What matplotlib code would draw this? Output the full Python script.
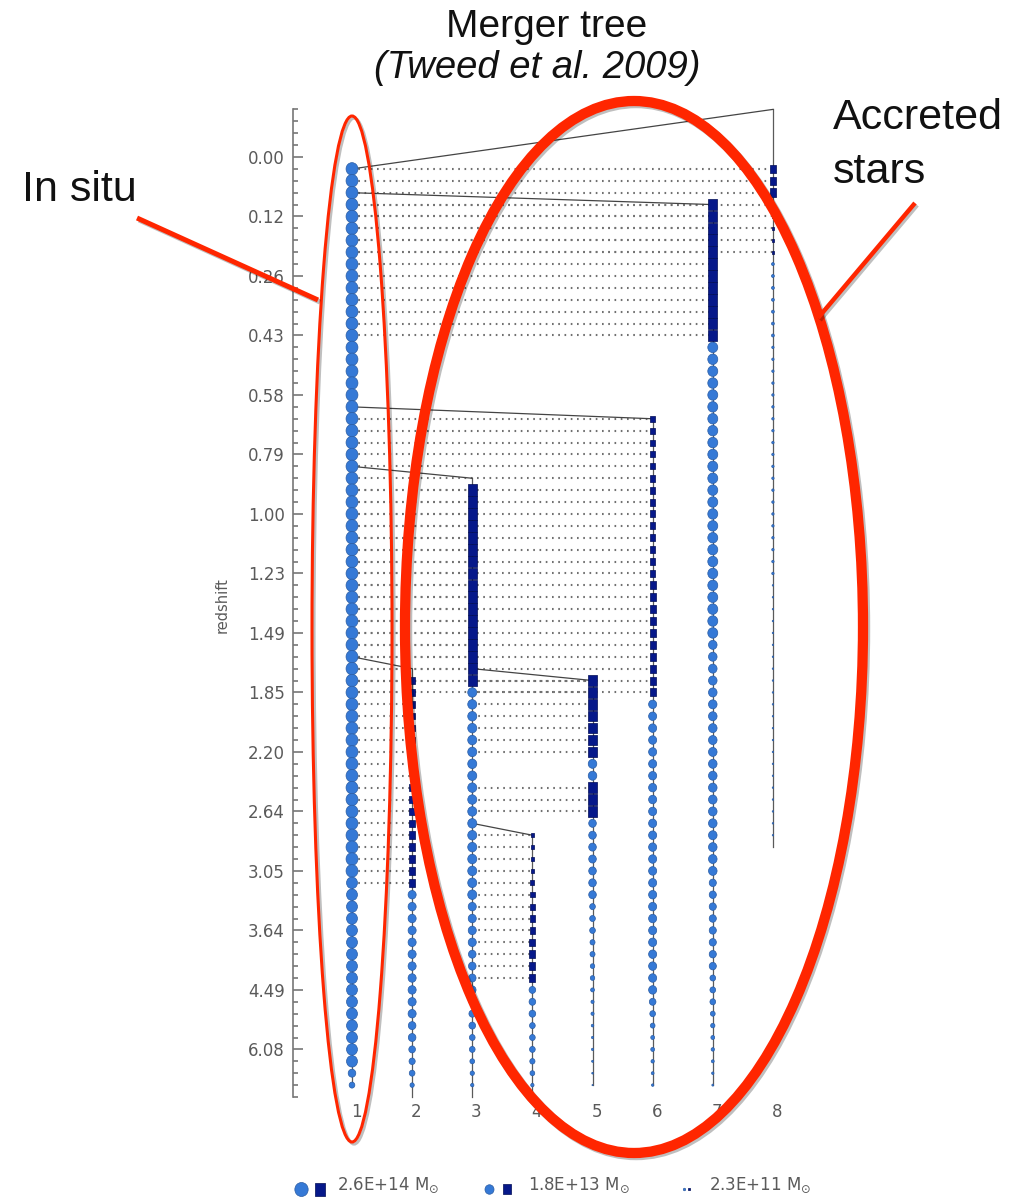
import matplotlib
matplotlib.use('Agg')
import matplotlib.pyplot as plt
import matplotlib.patheffects as pe
from matplotlib.patches import Ellipse
from matplotlib.path import Path
from matplotlib.transforms import Affine2D

# redshift printed at every fifth snapshot row (row 0 is z = 0.00)
redshift_labels = ['0.00', '0.12', '0.26', '0.43', '0.58', '0.79', '1.00', '1.23',
                   '1.49', '1.85', '2.20', '2.64', '3.05', '3.64', '4.49', '6.08']
branch_ids = [1, 2, 3, 4, 5, 6, 7, 8]

# nodes per branch as runs: (first row, last row, symbol, size in px)
# 'o' = halo mass, 's' = stars still bound in a subhalo
nodes_1 = [(1, 60, 'o', 12.5), (61, 76, 'o', 11.5), (77, 77, 'o', 8), (78, 78, 'o', 6)]
nodes_2 = [(44, 52, 's', 6.5), (53, 56, 's', 7.5), (57, 61, 's', 8.5),
           (62, 72, 'o', 8.5), (73, 74, 'o', 8), (75, 75, 'o', 7), (76, 76, 'o', 6.5),
           (77, 77, 'o', 6), (78, 78, 'o', 4.5)]
nodes_3 = [(28, 44, 's', 11.7),
           (45, 62, 'o', 9.5), (63, 66, 'o', 8.5), (67, 70, 'o', 8), (71, 73, 'o', 7),
           (74, 75, 'o', 6), (76, 76, 'o', 5), (77, 77, 'o', 4.5), (78, 78, 'o', 3.5)]
nodes_4 = [(57, 60, 's', 4.5), (61, 61, 's', 5), (62, 62, 's', 5.5), (63, 63, 's', 6),
           (64, 65, 's', 7), (66, 69, 's', 7.5),
           (70, 72, 'o', 7), (73, 75, 'o', 6), (76, 76, 'o', 5.5), (77, 77, 'o', 5),
           (78, 78, 'o', 3.5)]
nodes_5 = [(44, 50, 's', 10.5), (51, 52, 'o', 9), (53, 55, 's', 10.5),
           (56, 62, 'o', 8), (63, 65, 'o', 6), (66, 67, 'o', 5.3), (68, 69, 'o', 4.7),
           (70, 70, 'o', 4), (71, 72, 'o', 3.3), (73, 73, 'o', 2.7), (74, 75, 'o', 2.3),
           (76, 76, 'o', 2), (77, 77, 'o', 1.7), (78, 78, 'o', 1.2)]
nodes_6 = [(22, 26, 's', 6), (27, 35, 's', 7), (36, 45, 's', 8),
           (46, 70, 'o', 8.5), (71, 71, 'o', 7), (72, 72, 'o', 6), (73, 73, 'o', 5),
           (74, 75, 'o', 4), (76, 76, 'o', 3.5), (77, 77, 'o', 3), (78, 78, 'o', 2.5)]
nodes_7 = [(4, 15, 's', 11.7),
           (16, 40, 'o', 10.5), (41, 60, 'o', 9), (61, 68, 'o', 7.5), (69, 71, 'o', 6),
           (72, 72, 'o', 5), (73, 73, 'o', 4.5), (74, 74, 'o', 4), (75, 75, 'o', 3.5),
           (76, 76, 'o', 3), (77, 77, 'o', 2.5), (78, 78, 'o', 2)]
nodes_8 = [(1, 3, 's', 8.5), (4, 8, 's', 3),
           (9, 15, 'o', 3), (16, 35, 'o', 2.5), (36, 57, 'o', 1.5)]
branch_nodes = [nodes_1, nodes_2, nodes_3, nodes_4, nodes_5, nodes_6, nodes_7, nodes_8]

# mergers: (satellite, host, host row, satellite top row, satellite bottom row)
mergers = [(8, 1, 1, -4, 58),
           (7, 1, 3, 4, 78),
           (6, 1, 21, 22, 78),
           (3, 1, 26, 27, 79),
           (2, 1, 42, 43, 79),
           (5, 3, 43, 44, 78),
           (4, 3, 56, 57, 79)]

# legend masses
legend_masses = ['2.6E+14', '1.8E+13', '2.3E+11']

CIRCLE = '#3579d6'
CIRCLE_EDGE = '#2a5ca3'
SQUARE = '#06188a'
SQUARE_EDGE = '#000c55'
RED = '#ff2600'
GREY = '#5a5a5a'

# slightly tall symbols, as in the IDL output
halo_marker = Affine2D().scale(0.95, 1.0).transform_path(Path.unit_circle())
star_marker = Affine2D().translate(-0.5, -0.5).scale(0.78, 1.0).transform_path(Path.unit_rectangle())


def expand(runs):
    rows, kinds, sizes = [], [], []
    for r0, r1, kind, size in runs:
        for r in range(r0, r1 + 1):
            rows.append(r)
            kinds.append(kind)
            sizes.append(size)
    return rows, kinds, sizes


def draw_node(ax, x, rows, sizes, kind, z=4):
    if not rows:
        return
    s = [(d * 0.72) ** 2 for d in sizes]
    if kind == 'o':
        ax.scatter([x] * len(rows), rows, s=s, marker=halo_marker, c=CIRCLE,
                   edgecolors=CIRCLE_EDGE, linewidths=0.5, zorder=z, clip_on=False)
    else:
        ax.scatter([x] * len(rows), rows, s=s, marker=star_marker, c=SQUARE,
                   edgecolors=SQUARE_EDGE, linewidths=0.5, zorder=z, clip_on=False)


fig = plt.figure(figsize=(10.26, 12), dpi=100)
ax = fig.add_axes([293 / 1026, (1200 - 1097) / 1200, 516 / 1026, (1097 - 109.4) / 1200])
ax.set_xlim(0.019, 8.6)
ax.set_ylim(79, -4)

# dotted rows: host to satellite wherever the satellite still holds its stars
for sat, host, hrow, top, bottom in mergers:
    rows, kinds, sizes = expand(branch_nodes[sat - 1])
    for r, k in zip(rows, kinds):
        if k == 's':
            ax.plot([host, sat], [r, r], color='#707070', lw=1.5,
                    dashes=(0.8, 2.2), zorder=1, clip_on=False)

# branch lines and merger connectors
ax.plot([1, 1], [1, 78], color=GREY, lw=0.9, zorder=2)
for sat, host, hrow, top, bottom in mergers:
    ax.plot([sat, sat], [top, bottom], color=GREY, lw=0.9, zorder=2, clip_on=False)
    ax.plot([host, sat], [hrow, top], color='#444444', lw=0.9, zorder=2, clip_on=False)

# nodes
for b, runs in zip(branch_ids, branch_nodes):
    rows, kinds, sizes = expand(runs)
    for kind in ('o', 's'):
        rr = [r for r, k in zip(rows, kinds) if k == kind]
        ss = [s for s, k in zip(sizes, kinds) if k == kind]
        draw_node(ax, b, rr, ss, kind)

# axes styling
for side in ('top', 'right', 'bottom'):
    ax.spines[side].set_visible(False)
ax.spines['left'].set_color('#777777')
ax.spines['left'].set_linewidth(1.2)
ax.set_xticks([])
ax.set_yticks(range(0, 5 * len(redshift_labels), 5))
ax.set_yticklabels(redshift_labels)
ax.set_yticks([r for r in range(-4, 80) if r % 5 != 0], minor=True)
ax.tick_params(axis='y', which='major', direction='in', length=7.2, width=1.2,
               color='#777777', labelcolor=GREY, labelsize=12, pad=5.8)
ax.tick_params(axis='y', which='minor', direction='in', length=3.6, width=1.2,
               color='#777777')
ax.patch.set_alpha(0)

for b in branch_ids:
    ax.text(b + 0.07, -0.0152, str(b), transform=ax.get_xaxis_transform(),
            ha='center', va='center', fontsize=12, color=GREY)

fig.text(222 / 1026, 1 - 605 / 1200, 'redshift', rotation=90, ha='center',
         va='center', fontsize=10.5, color=GREY)

# overlay in pixel units for title, annotations and legend
ov = fig.add_axes([0, 0, 1, 1])
ov.set_xlim(0, 1026)
ov.set_ylim(1200, 0)
ov.axis('off')
ov.set_zorder(5)

ov.text(547, 27, 'Merger tree', ha='center', va='center', fontsize=28,
        family='Liberation Sans', color='#111111')
ov.text(537, 68, '(Tweed et al. 2009)', ha='center', va='center', fontsize=27.5,
        family='Liberation Sans', style='italic', color='#111111')
ov.text(22, 190, 'In situ', ha='left', va='center', fontsize=31,
        family='Liberation Sans', color='#111111')
ov.text(833, 118, 'Accreted', ha='left', va='center', fontsize=31,
        family='Liberation Sans', color='#111111')
ov.text(833, 172, 'stars', ha='left', va='center', fontsize=31,
        family='Liberation Sans', color='#111111')

shadow = [pe.SimpleLineShadow(offset=(1.5, -1.5), shadow_color='k', alpha=0.25), pe.Normal()]
ov.add_patch(Ellipse((352, 629), 80, 1026, fill=False, ec=RED, lw=2.2, path_effects=shadow))
ov.add_patch(Ellipse((634, 627), 458, 1052, fill=False, ec=RED, lw=7.4, path_effects=shadow))
ov.plot([137, 318], [218, 300], color=RED, lw=3.6, solid_capstyle='butt', path_effects=shadow)
ov.plot([915, 818], [203, 318], color=RED, lw=3.2, solid_capstyle='butt', path_effects=shadow)

# legend: symbol sizes for three masses
legend_keys = [(301, 320, 337, 14, 13), (489, 507, 528, 9.5, 9.5), (684, 689, 709, 2.5, 2.5)]
for (xc, xs, xt, dc, ds), mass in zip(legend_keys, legend_masses):
    ov.scatter([xc], [1189], s=(dc * 0.72) ** 2, marker=halo_marker, c=CIRCLE,
               edgecolors=CIRCLE_EDGE, linewidths=0.5)
    ov.scatter([xs], [1189], s=(ds * 0.72) ** 2, marker=star_marker, c=SQUARE,
               edgecolors=SQUARE_EDGE, linewidths=0.5)
    ov.text(xt, 1185, mass + r' M$_{\odot}$', ha='left', va='center', fontsize=12,
            color=GREY)

fig.savefig('out.png', dpi=100)
